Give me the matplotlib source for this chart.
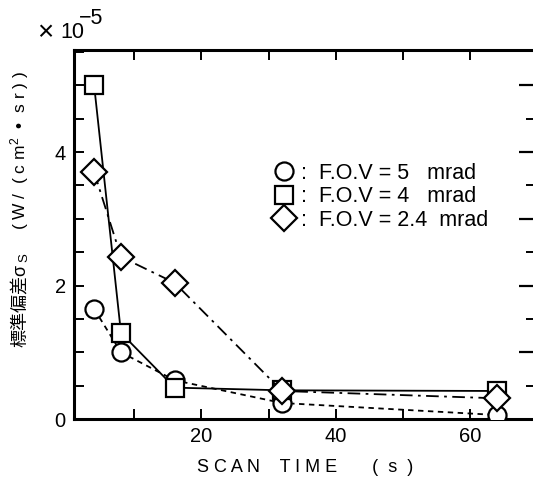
import numpy as np
import matplotlib.pyplot as plt
from matplotlib.lines import Line2D
from matplotlib.ticker import MultipleLocator, FixedLocator

plt.rcParams['font.family'] = ['Liberation Sans', 'Noto Sans CJK JP', 'DejaVu Sans']
plt.rcParams['mathtext.fontset'] = 'custom'
plt.rcParams['mathtext.rm'] = 'Liberation Sans'
plt.rcParams['mathtext.it'] = 'Liberation Sans'

# scan time (s) and standard deviation (x1e-5 W/(cm2 sr))
scan_time = [4, 8, 16, 32, 64]
sigma_fov5 = [1.65, 1.0, 0.58, 0.24, 0.06]
sigma_fov4 = [5.0, 1.29, 0.47, 0.43, 0.42]
sigma_fov24 = [3.7, 2.43, 2.04, 0.42, 0.31]
labels = [':  F.O.V = 5   mrad', ':  F.O.V = 4   mrad', ':  F.O.V = 2.4  mrad']

fig = plt.figure(figsize=(5.33, 4.94), dpi=100)
ax = fig.add_axes([74 / 533, 75 / 494, (537 - 74) / 533, (419 - 50) / 494])

mk = dict(mfc='white', mec='black', mew=1.6, color='black', lw=1.3)
ax.plot(scan_time, sigma_fov5, marker='o', ms=13, ls=(0, (3, 2.5)), zorder=3, **mk)
ax.plot(scan_time, sigma_fov4, marker='s', ms=13, ls='-', zorder=4, **mk)
ax.plot(scan_time, sigma_fov24, marker='D', ms=13, ls=(0, (7, 3, 1.5, 3)), zorder=5, **mk)

ax.set_xlim(1, 70)
ax.set_ylim(0, 5.53)

for s in ax.spines.values():
    s.set_linewidth(2.2)

ax.xaxis.set_major_locator(FixedLocator([20, 40, 60]))
ax.xaxis.set_minor_locator(FixedLocator([10, 30, 50]))
ax.yaxis.set_major_locator(FixedLocator([0, 2, 4]))
ax.yaxis.set_minor_locator(MultipleLocator(0.5))
ax.tick_params(which='both', direction='in', top=True, right=False,
               width=1.4, labelsize=14.5, pad=6, length=7)

# right-hand ticks: long at integers, short at halves
sec = ax.secondary_yaxis('right')
sec.set_yticks([1, 2, 3, 4, 5])
sec.yaxis.set_minor_locator(FixedLocator([0.5, 1.5, 2.5, 3.5, 4.5]))
sec.tick_params(which='major', direction='in', length=13, width=1.6, labelright=False)
sec.tick_params(which='minor', direction='in', length=8, width=1.4)
sec.spines['right'].set_linewidth(2.2)

ax.set_xlabel('S C A N    T I M E       (  s  )', fontsize=13, labelpad=9)

# axis multiplier
fig.text(37 / 533, 1 - 33 / 494, '×', fontsize=20, ha='left', va='center')
fig.text(60 / 533, 1 - 33 / 494, '10', fontsize=15.5, ha='left', va='center')
fig.text(79 / 533, 1 - 19 / 494, '−5', fontsize=15.5, ha='left', va='center')

fig.text(20 / 533, 1 - 150 / 494, '( W /  ( c m$^2$  •  s r ) )', fontsize=12.5,
         rotation=90, ha='center', va='center')
fig.text(20 / 533, 1 - 305 / 494, '標準偏差σ', fontsize=13,
         rotation=90, ha='center', va='center')
fig.text(24 / 533, 1 - 258 / 494, 'S', fontsize=9.5,
         rotation=90, ha='center', va='center')

handles = [Line2D([], [], ls='none', marker=m, ms=13, mfc='white', mec='black', mew=1.6)
           for m in ['o', 's', 'D']]
ax.legend(handles, labels, loc='upper left', bbox_to_anchor=(262 / 533, 1 - 152 / 494),
          bbox_transform=fig.transFigure, frameon=False, fontsize=15.5,
          handlelength=1.0, handletextpad=0.3, labelspacing=0.12, borderpad=0)

fig.savefig('out.png', dpi=100)
